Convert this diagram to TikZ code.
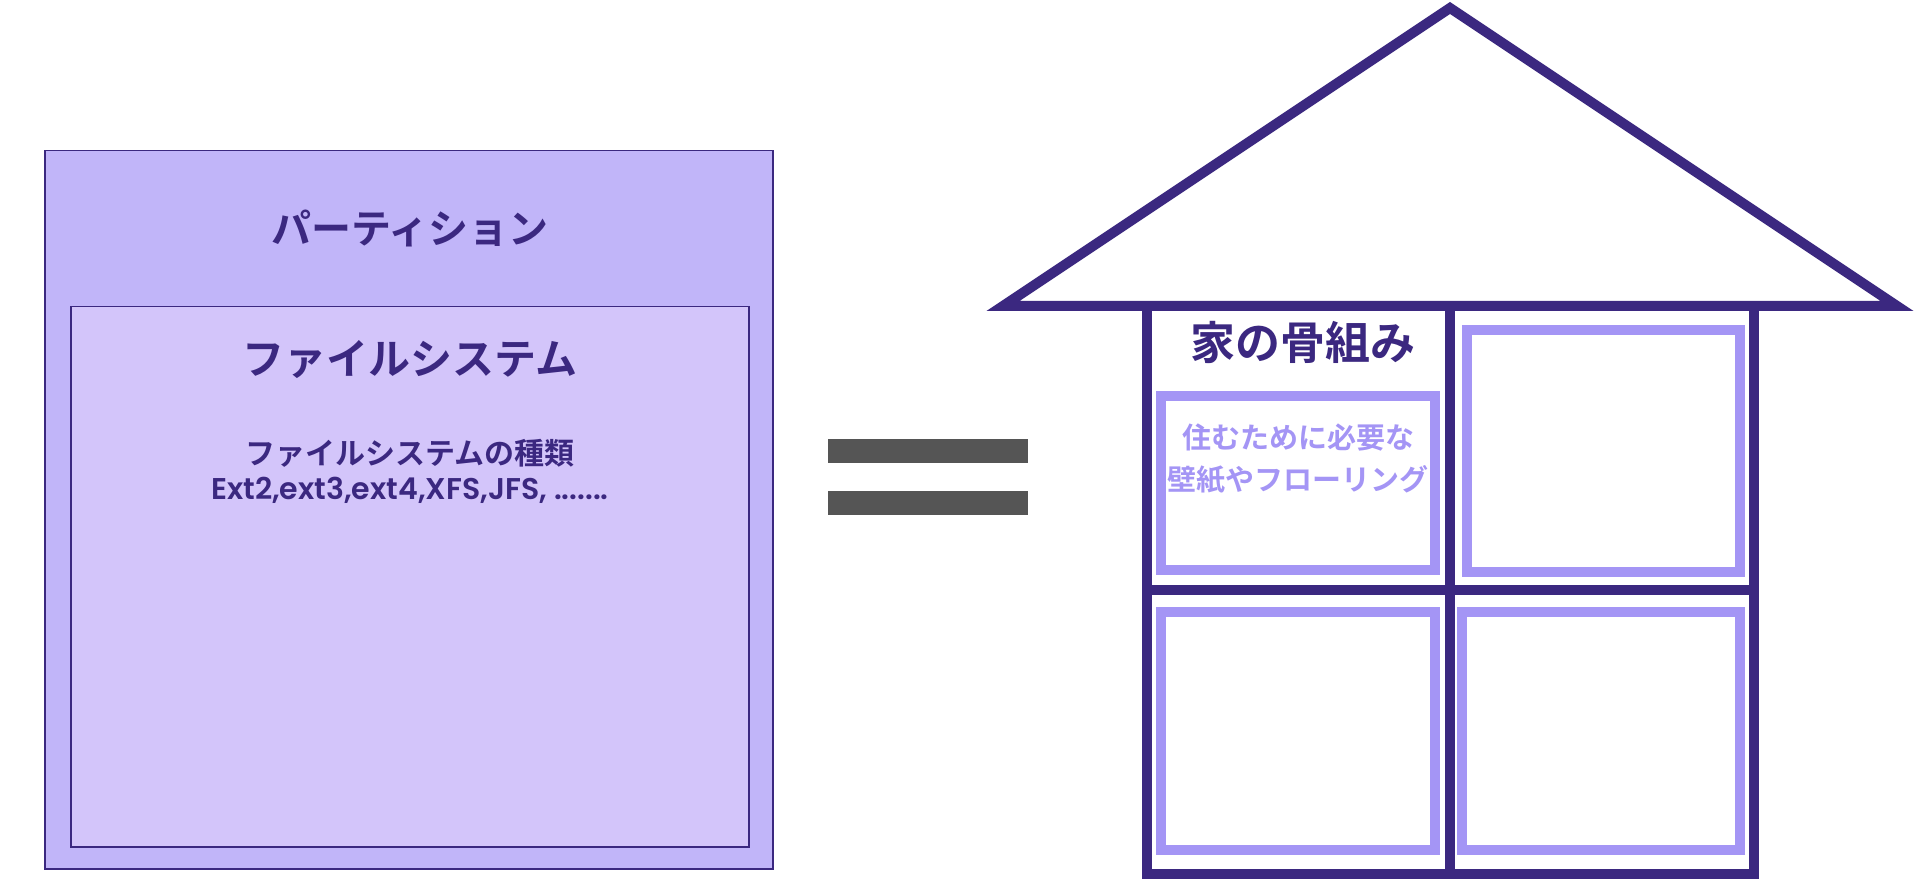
\documentclass[tikz,border=0pt]{standalone}
\usepackage{fontspec}
\setmainfont{Noto Sans CJK JP}[BoldFont={* Bold}]
\newfontfamily\jpb{Noto Sans CJK JP Bold}
\newfontfamily\latb{Poppins SemiBold}
\definecolor{dk}{HTML}{3B2880}
\definecolor{outerf}{HTML}{C1B5F9}
\definecolor{innerf}{HTML}{D3C5FA}
\definecolor{room}{HTML}{A495F5}
\definecolor{eqc}{HTML}{555555}
\tikzset{
 house/.style={draw=dk,line width=10pt},
 roomb/.style={draw=room,line width=10pt},
 lbl/.style={text=dk,font=\jpb},
}
\begin{document}
\begin{tikzpicture}[x=1pt,y=-1pt]
\useasboundingbox (0,0) rectangle (1917,882);
\node[draw=dk,fill=outerf,line width=1.5pt,minimum width=728pt,minimum height=718pt,anchor=north west,inner sep=0] (outer) at (44,150) {};
\node[draw=dk,fill=innerf,line width=1.5pt,minimum width=678pt,minimum height=540pt,anchor=north west,inner sep=0] (inner) at (70,306) {};
\node[lbl,font=\jpb\fontsize{40pt}{46pt}\selectfont] (t1) at (410,228) {パーティション};
\node[lbl,font=\jpb\fontsize{42pt}{48pt}\selectfont] (t2) at (410,360) {ファイルシステム};
\node[lbl,font=\jpb\fontsize{30pt}{36pt}\selectfont] (t3) at (410,453) {ファイルシステムの種類};
\node[lbl,font=\latb\fontsize{30pt}{36pt}\selectfont] (t3b) at (410,490) {Ext2,ext3,ext4,XFS,JFS, .......};
\node[fill=eqc,minimum width=200pt,minimum height=24pt,inner sep=0] (e1) at (928,451) {};
\node[fill=eqc,minimum width=200pt,minimum height=24pt,inner sep=0] (e2) at (928,503) {};
\coordinate (apex) at (1450,8);
\coordinate (rl) at (1003,306);
\coordinate (rr) at (1897,306);
\draw[house,line join=miter] (apex) -- (rr) -- (rl) -- cycle;
\draw[house] (1147,306) rectangle (1754,874);
\draw[house] (1450,306) -- (1450,874);
\draw[house] (1147,590) -- (1754,590);
\draw[roomb] (1161,396) rectangle (1435,570);
\draw[roomb] (1467,330) rectangle (1740,572);
\draw[roomb] (1161,612) rectangle (1435,850);
\draw[roomb] (1462,612) rectangle (1740,850);
\node[lbl,font=\jpb\fontsize{45pt}{50pt}\selectfont] (t4) at (1303,342) {家の骨組み};
\node[text=room,font=\jpb\fontsize{29pt}{42pt}\selectfont,align=center] (t5) at (1298,459) {住むために必要な\\壁紙やフローリング};
\end{tikzpicture}
\end{document}
